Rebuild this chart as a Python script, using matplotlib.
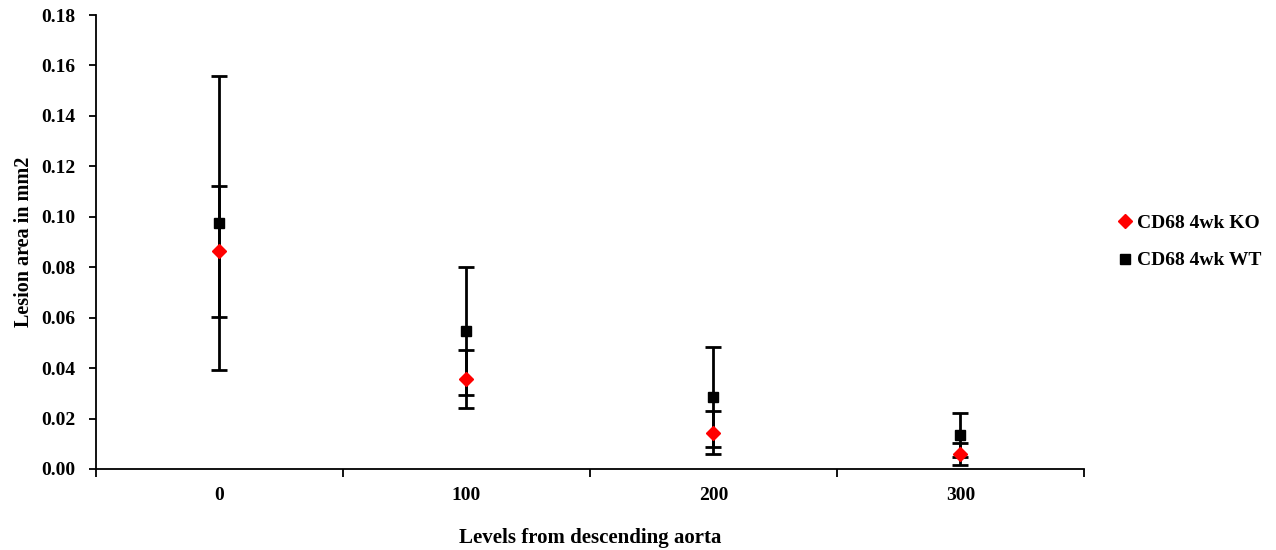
import numpy as np
import matplotlib.pyplot as plt

# Lesion area by level along the descending aorta
levels = [0, 100, 200, 300]
ko_mean = [0.0864, 0.0357, 0.0143, 0.0059]
ko_err = [0.0260, 0.0115, 0.0085, 0.0045]
wt_mean = [0.0975, 0.0547, 0.0285, 0.0135]
wt_err = [0.0583, 0.0254, 0.0198, 0.0088]
yticks = [0.00, 0.02, 0.04, 0.06, 0.08, 0.10, 0.12, 0.14, 0.16, 0.18]

plt.rcParams['font.family'] = ['Liberation Serif', 'DejaVu Serif']
plt.rcParams['font.weight'] = 'bold'

fig = plt.figure(figsize=(12.76, 5.5), dpi=100)
ax = fig.add_axes([0.0752, 0.1473, 0.7743, 0.8254])

# error bars first, then markers on top
ax.errorbar(levels, wt_mean, yerr=wt_err, fmt='none', ecolor='black',
            elinewidth=2, capsize=5.5, capthick=2, zorder=2)
ax.errorbar(levels, ko_mean, yerr=ko_err, fmt='none', ecolor='black',
            elinewidth=2, capsize=5.5, capthick=2, zorder=2)
ax.plot(levels, wt_mean, 's', color='black', markersize=6.5, zorder=3,
        label='CD68 4wk WT')
ax.plot(levels, ko_mean, 'D', color='#ff0000', markersize=7, zorder=4,
        label='CD68 4wk KO')

ax.set_xlim(-50, 350)
ax.set_ylim(0, 0.18)
ax.set_yticks(yticks)
ax.set_yticklabels([f'{v:.2f}' for v in yticks])
ax.set_xticks([-50, 50, 150, 250, 350])
ax.set_xticklabels([])
ax.set_xticks(levels, minor=True)
ax.set_xticklabels([str(v) for v in levels], minor=True)
ax.tick_params(axis='x', which='minor', length=0, pad=13, labelsize=14)
ax.tick_params(axis='x', which='major', direction='out', length=5.5, width=1.3)
ax.tick_params(axis='y', direction='out', length=5, width=1.3, labelsize=14, pad=10)

for side in ['top', 'right']:
    ax.spines[side].set_visible(False)
for side in ['left', 'bottom']:
    ax.spines[side].set_linewidth(1.3)

ax.set_xlabel('Levels from descending aorta', fontsize=15, fontweight='bold', labelpad=17)
ax.set_ylabel('Lesion area in mm2', fontsize=14.5, fontweight='bold', labelpad=5)

handles, labels = ax.get_legend_handles_labels()
ax.legend(handles[::-1], labels[::-1], loc='center left',
          bbox_to_anchor=(1.018, 0.5), frameon=False, fontsize=14,
          handlelength=0.6, handletextpad=0.3, labelspacing=1.0)

fig.savefig('out.png', dpi=100)
